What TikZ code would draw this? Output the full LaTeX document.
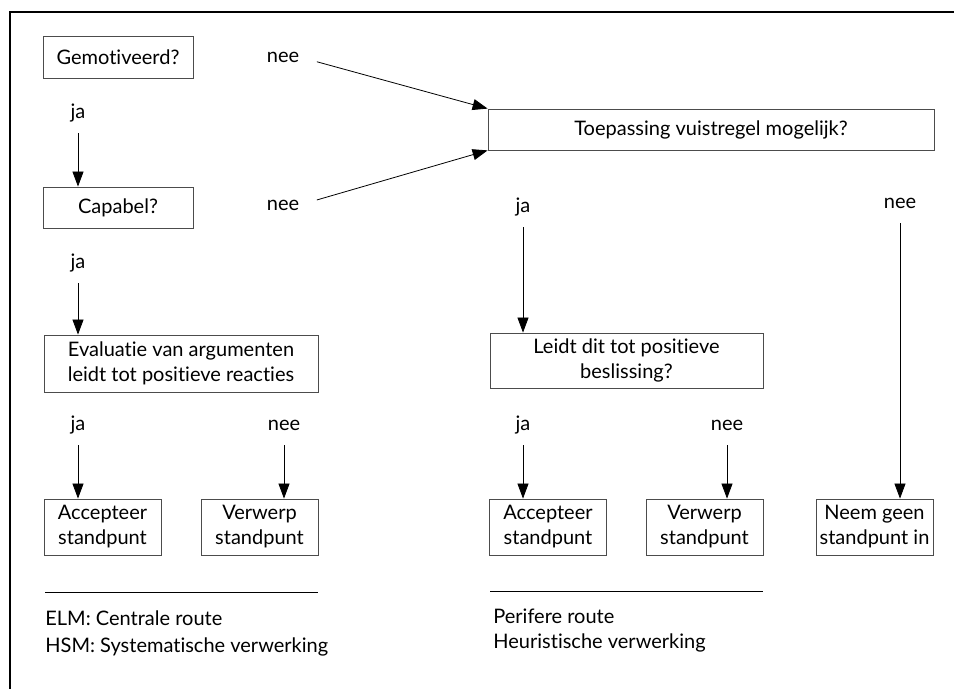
\documentclass[tikz,border=0pt]{standalone}
\usepackage{fontspec}
\setmainfont{Lato}[Ligatures=CommonOff]
\usetikzlibrary{arrows.meta}

\begin{document}
\begin{tikzpicture}[x=0.5pt,y=-0.5pt,
    box/.style={draw=black!70,line width=0.4pt,inner sep=0pt,align=center,font=\fontsize{10}{12.5}\selectfont},
    keuze/.style={box,minimum width=58.5pt,minimum height=28pt},
    lbl/.style={inner sep=0pt,minimum height=20pt,font=\fontsize{10}{12.5}\selectfont},
    arr/.style={-{Triangle[length=7.5pt,width=5.5pt]},line width=0.4pt}]
              \useasboundingbox (0,0) rectangle (954,689);
              \draw[line width=0.9pt] (10,689) -- (10,12) -- (954,12);
              % vragen
              \node[box,minimum width=75pt,minimum height=21pt](gem)at(118,57){Gemotiveerd?};
              \node[box,minimum width=75pt,minimum height=20.5pt](cap)at(118,207.5){Capabel?};
              \node[box,minimum width=223pt,minimum height=20.5pt](toep)at(711,129.5){Toepassing vuistregel mogelijk?};
              \node[box,minimum width=137pt,minimum height=28.5pt](eval)at(181,363.5){Evaluatie van argumenten\\leidt tot positieve reacties};
              \node[box,minimum width=136.5pt,minimum height=27.5pt](leidt)at(626.5,360.5){Leidt dit tot positieve\\beslissing?};
              % uitkomsten
              \node[keuze](accL)at(102.5,527){Accepteer\\standpunt};
              \node[keuze](verL)at(259.5,527){Verwerp\\standpunt};
              \node[keuze](accR)at(548,527){Accepteer\\standpunt};
              \node[keuze](verR)at(704.5,527){Verwerp\\standpunt};
              \node[keuze](neem)at(874.5,527){Neem geen\\standpunt in};
              % ja / nee
              \node[lbl](nee1)at(283,57){nee};
              \node[lbl](nee2)at(283,205){nee};
              \node[lbl](ja1)at(78,113){ja};
              \node[lbl](ja2)at(78,263){ja};
              \node[lbl](ja3)at(523,207){ja};
              \node[lbl](nee3)at(900,203){nee};
              \node[lbl](ja4)at(78,425){ja};
              \node[lbl](nee4)at(284,425){nee};
              \node[lbl](ja5)at(523,425){ja};
              \node[lbl](nee5)at(727,425){nee};
              \draw[arr,shorten <=9pt](nee1.east)--(toep.north west);
              \draw[arr,shorten <=9pt](nee2.east)--(toep.south west);
              \draw[arr](ja1.south)--(ja1.south|-cap.north);
              \draw[arr](ja2.south)--(ja2.south|-eval.north);
              \draw[arr](ja3.south)--(ja3.south|-leidt.north);
              \draw[arr](nee3.south)--(nee3.south|-neem.north);
              \draw[arr](ja4.south)--(ja4.south|-accL.north);
              \draw[arr](nee4.south)--(nee4.south|-verL.north);
              \draw[arr](ja5.south)--(ja5.south|-accR.north);
              \draw[arr](nee5.south)--(nee5.south|-verR.north);
              % routes
              \draw[line width=0.5pt](45,593)--(318,593);
              \draw[line width=0.5pt](490,592)--(763,592);
              \node[anchor=west,align=left,inner sep=0pt,font=\fontsize{10}{13.5}\selectfont](elm)at(45,633.5){ELM: Centrale route\\HSM: Systematische verwerking};
              \node[anchor=west,align=left,inner sep=0pt,font=\fontsize{10}{12.5}\selectfont](per)at(493,630.5){Perifere route\\Heuristische verwerking};
            \end{tikzpicture}
\end{document}
